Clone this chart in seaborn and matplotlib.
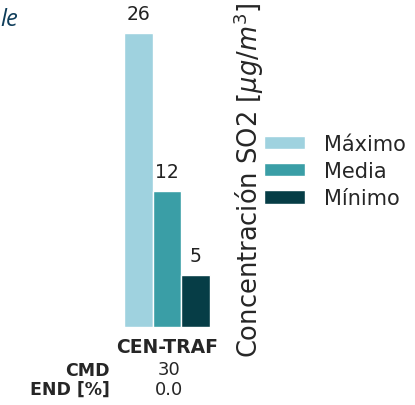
import matplotlib
matplotlib.use('Agg')
import matplotlib.pyplot as plt
import seaborn as sns
import pandas as pd

estaciones = ['CEN-TRAF']
estadisticos = ['Máximo', 'Media', 'Mínimo']
valores = [26.0, 12.0, 4.6]
cmd = ['30']
end = ['0.0']
colores = ['#9fd2df', '#3a9ea6', '#063d46']

df = pd.DataFrame({'estacion': estaciones * 3, 'estadistico': estadisticos, 'valor': valores})

sns.set_style('white')
plt.rcParams['font.family'] = ['DejaVu Sans']

W, H = 415, 406
fig = plt.figure(figsize=(W / 100, H / 100), dpi=100)
ax = fig.add_axes([113 / W, 1 - 328 / H, 108 / W, 325 / H])

sns.barplot(data=df, x='estacion', y='valor', hue='estadistico', palette=colores,
            saturation=1, edgecolor='white', linewidth=1, ax=ax)
for c in ax.containers:
    ax.bar_label(c, fmt='%.0f', padding=7, fontsize=13.5, color='#222222')

ax.set_ylim(0, 28.7)
ax.set_xlim(-0.5, 0.5)
ax.set_yticks([])
sns.despine(ax=ax, left=True, bottom=True)
ax.set_xlabel('')
ax.yaxis.set_label_position('right')
ax.set_ylabel(r'Concentración SO2 [$\mu g/m^3$]', fontsize=18.5)
ax.yaxis.set_label_coords((232 - 113) / 108, (328 - 180) / 325)
ax.tick_params(axis='x', length=0, pad=7)
ax.set_xticks([0])
ax.set_xticklabels(estaciones, fontsize=13.5, fontweight='bold')

leg = ax.legend(loc='center left', bbox_to_anchor=(1.22, 0.48), frameon=False,
                fontsize=15, handlelength=2.0, handleheight=0.6, labelspacing=0.35,
                handletextpad=0.9)

# tabla inferior
xf = (113 + 56) / W
fig.text(110 / W, 1 - 371 / H, 'CMD', ha='right', va='center', fontsize=12.5, fontweight='bold')
fig.text(110 / W, 1 - 390 / H, 'END [%]', ha='right', va='center', fontsize=12.5, fontweight='bold')
fig.text(xf, 1 - 370 / H, cmd[0], ha='center', va='center', fontsize=13)
fig.text(xf, 1 - 390 / H, end[0], ha='center', va='center', fontsize=13)

fig.text(0, 1 - 20 / H, 'le', ha='left', va='center', fontsize=17,
         style='italic', color='#0e3d5a', family='Open Sans')

fig.savefig('out.png', dpi=100)
